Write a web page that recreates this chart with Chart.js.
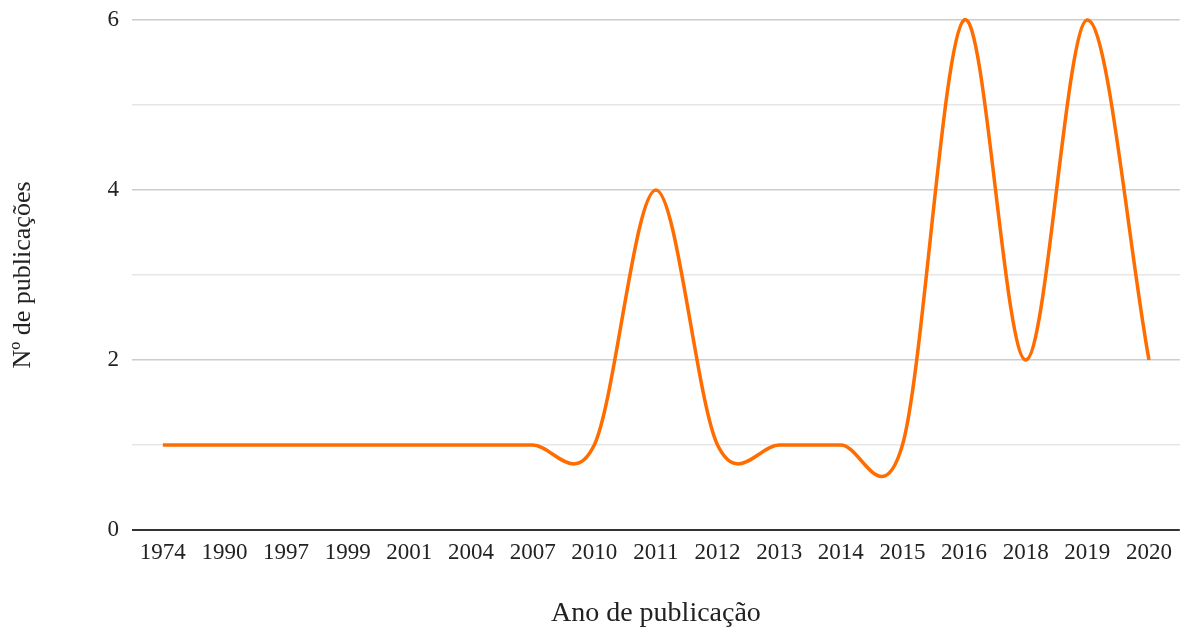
<!DOCTYPE html>
<html>
<head>
<meta charset="utf-8">
<script src="https://cdn.jsdelivr.net/npm/chart.js@4"></script>
<style>
  html, body { margin: 0; padding: 0; background: #fff; }
  #wrap { width: 1181px; height: 630px; }
</style>
</head>
<body>
<div id="wrap"><canvas id="chart" width="1181" height="630"></canvas></div>
<script>
// Data
const years = ['1974', '1990', '1997', '1999', '2001', '2004', '2007', '2010', '2011', '2012', '2013', '2014', '2015', '2016', '2018', '2019', '2020'];
const publications = [1, 1, 1, 1, 1, 1, 1, 1, 4, 1, 1, 1, 1, 6, 2, 6, 2];
const yTicks = [0, 2, 4, 6];

const serif = '"Liberation Serif", "DejaVu Serif", serif';

// The reference uses a Catmull-Rom style smoothing, so replace the
// control points Chart.js computed with uniform ones (same pixel points)
const catmullRom = {
    id: 'catmullRom',
    beforeDatasetDraw(chart, args) {
        const meta = args.meta;
        const line = meta.dataset;
        const pts = meta.data;
        if (!line || pts.length < 2) return;
        line.updateControlPoints(chart.chartArea, 'x');
        const n = pts.length;
        pts.forEach((p, i) => {
            const prev = pts[Math.max(i - 1, 0)];
            const next = pts[Math.min(i + 1, n - 1)];
            const k = (i === 0 || i === n - 1) ? 1 : 0.5;
            const mx = (next.x - prev.x) * k;
            const my = (next.y - prev.y) * k;
            p.cp1x = p.x - mx / 3;
            p.cp1y = p.y - my / 3;
            p.cp2x = p.x + mx / 3;
            p.cp2y = p.y + my / 3;
        });
        line._path = undefined;
    }
};

const ctx = document.getElementById('chart').getContext('2d');
new Chart(ctx, {
    type: 'line',
    data: {
        labels: years,
        datasets: [{
            data: publications,
            borderColor: '#FF6D00',
            borderWidth: 3.5,
            pointRadius: 0,
            tension: 0.4,
            fill: false,
            clip: false
        }]
    },
    plugins: [catmullRom],
    options: {
        responsive: false,
        animation: false,
        layout: { padding: { top: 20, right: 0, left: 0, bottom: 0 } },
        plugins: {
            legend: { display: false },
            tooltip: { enabled: false }
        },
        scales: {
            x: {
                offset: true,
                afterFit: (axis) => { axis.height = 100; },
                grid: { display: false, drawTicks: false },
                border: { display: false },
                ticks: {
                    color: '#222',
                    font: { family: serif, size: 23 },
                    padding: 9,
                    maxRotation: 0,
                    autoSkip: false
                },
                title: {
                    display: true,
                    text: 'Ano de publicação',
                    color: '#222',
                    font: { family: serif, size: 28 },
                    padding: { top: 26, bottom: 0 }
                }
            },
            y: {
                min: 0,
                max: 6,
                afterFit: (axis) => {
                    axis.width = 132;
                    axis.paddingTop = 0;
                    axis.paddingBottom = 0;
                },
                ticks: {
                    stepSize: 1,
                    color: '#222',
                    font: { family: serif, size: 23 },
                    padding: 13,
                    callback: (v) => yTicks.includes(v) ? String(v) : ''
                },
                grid: {
                    drawTicks: false,
                    lineWidth: (c) => c.tick && c.tick.value === 0 ? 2 : 1.5,
                    color: (c) => {
                        if (!c.tick) return '#ccc';
                        if (c.tick.value === 0) return '#333';
                        return yTicks.includes(c.tick.value) ? '#cccccc' : '#e6e6e6';
                    }
                },
                border: { display: false },
                title: {
                    display: true,
                    text: 'Nº de publicações',
                    color: '#222',
                    font: { family: serif, size: 26 },
                    padding: { top: 8, bottom: 0 }
                }
            }
        }
    }
});
</script>
</body>
</html>
